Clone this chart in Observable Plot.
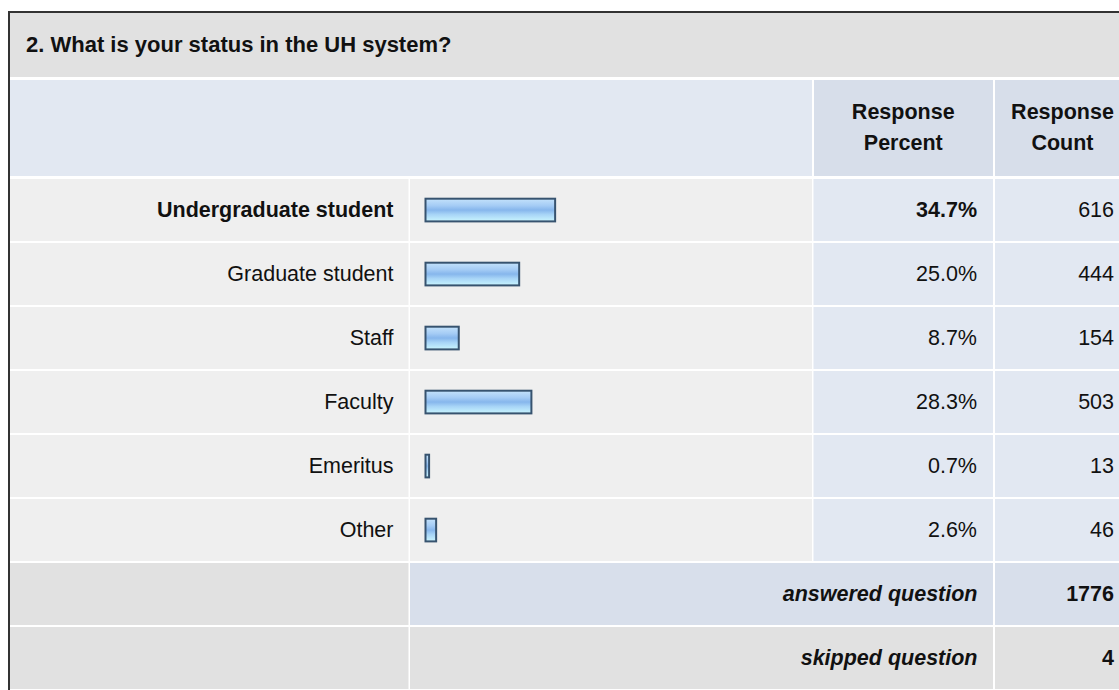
<!DOCTYPE html>
<html>
<head>
<meta charset="utf-8">
<script src="https://cdn.jsdelivr.net/npm/d3@7"></script>
<script src="https://cdn.jsdelivr.net/npm/@observablehq/plot@0.6"></script>
<style>
  html, body { margin: 0; padding: 0; background: #fff; }
  body { width: 1119px; height: 690px; overflow: hidden; position: relative;
         font-family: "Liberation Sans", Arial, Helvetica, sans-serif; color: #111; }
  #frame { position: absolute; left: 8px; top: 11px; width: 1111px; height: 679px;
           border-left: 2px solid #333; border-top: 2px solid #333; background: #fff; overflow: hidden; }
  #title { position: absolute; left: 0; top: 0; width: 1120px; height: 64px; background: #e1e1e1;
           font-weight: bold; font-size: 22px; line-height: 64px; padding-left: 16px; box-sizing: border-box;
           white-space: nowrap; }
  .hcell { position: absolute; top: 67px; height: 96px; display: flex; align-items: center; justify-content: center;
           text-align: center; font-weight: bold; font-size: 21.5px; line-height: 31px; }
  #chart { position: absolute; left: 0; top: 176px; }
</style>
</head>
<body>
<div id="frame">
  <div id="title"></div>
  <div class="hcell" id="hLeft" style="left:0;width:801.5px;background:#e2e8f2;"></div>
  <div class="hcell" id="hPct" style="left:803.5px;width:179.5px;background:#d7deea;"></div>
  <div class="hcell" id="hCnt" style="left:985px;width:135px;background:#d7deea;"></div>
</div>
<div id="chart"></div>
<script>
// ---- data ----
const questionTitle = "2. What is your status in the UH system?";
const headerLabels = ["Response Percent", "Response Count"];
const categories = ["Undergraduate student", "Graduate student", "Staff", "Faculty", "Emeritus", "Other"];
const percents = [34.7, 25.0, 8.7, 28.3, 0.7, 2.6];
const counts = [616, 444, 154, 503, 13, 46];
const summaryLabels = ["answered question", "skipped question"];
const summaryCounts = [1776, 4];

// ---- header (HTML above the SVG) ----
document.getElementById("title").textContent = questionTitle;
document.getElementById("hPct").innerHTML = headerLabels[0].replace(" ", "<br>");
document.getElementById("hCnt").innerHTML = headerLabels[1].replace(" ", "<br>");

// ---- table built from the arrays ----
const maxPct = d3.max(percents);
const rows = categories.map((c, i) => ({label: c, pct: percents[i], count: counts[i], top: percents[i] === maxPct}));
const summary = summaryLabels.map((s, i) => ({label: s, count: summaryCounts[i]}));
const rowKeys = [...categories, ...summaryLabels];

// layout: pixel -> x-scale units (0% at px 426, 3.707 px per percent)
const X0 = 426, PXPER = 3.707;
const toX = px => (px - X0) / PXPER;
const COLS = {label: [10, 408.5], bar: [410, 812], pct: [813.5, 993], cnt: [995, 1130], mid: [410, 993]};

const cells = [];
for (const c of categories) {
  cells.push({row: c, x1: toX(COLS.label[0]), x2: toX(COLS.label[1]), fill: "#efefef"});
  cells.push({row: c, x1: toX(COLS.bar[0]), x2: toX(COLS.bar[1]), fill: "#efefef"});
  cells.push({row: c, x1: toX(COLS.pct[0]), x2: toX(COLS.pct[1]), fill: "#e2e8f2"});
  cells.push({row: c, x1: toX(COLS.cnt[0]), x2: toX(COLS.cnt[1]), fill: "#e2e8f2"});
}
const sumFill = [["#e1e1e1", "#d8dfeb", "#d8dfeb"], ["#e1e1e1", "#e1e1e1", "#e1e1e1"]];
summaryLabels.forEach((s, i) => {
  cells.push({row: s, x1: toX(COLS.label[0]), x2: toX(COLS.label[1]), fill: sumFill[i][0]});
  cells.push({row: s, x1: toX(COLS.mid[0]), x2: toX(COLS.mid[1]), fill: sumFill[i][1]});
  cells.push({row: s, x1: toX(COLS.cnt[0]), x2: toX(COLS.cnt[1]), fill: sumFill[i][2]});
});

const FONT = "Liberation Sans, Arial, Helvetica, sans-serif";
const FS = 21.5;
const txt = {frameAnchor: "left", textAnchor: "end", fontSize: FS, fontFamily: FONT, fill: "#111", dy: 1};

const svg = Plot.plot({
  width: 1119,
  height: 515,
  marginLeft: 0, marginRight: 0, marginTop: 0, marginBottom: 0,
  style: {background: "transparent", fontFamily: FONT, overflow: "visible"},
  x: {domain: [0, 100], range: [X0, X0 + 100 * PXPER], axis: null},
  y: {domain: rowKeys, range: [0, 514.67], padding: 0, axis: null},
  marks: [
    Plot.barX(cells, {x1: "x1", x2: "x2", y: "row", fill: "fill", insetTop: 2, insetBottom: 0}),
    Plot.barX(rows, {x: "pct", y: "label", fill: "url(#barGrad)", stroke: "#37536f", strokeWidth: 2,
                     insetTop: 21.7, insetBottom: 19.6, insetLeft: -0.5, insetRight: -0.5}),
    Plot.text(rows.filter(d => d.top), {...txt, y: "label", text: "label", dx: 393, fontWeight: "bold"}),
    Plot.text(rows.filter(d => !d.top), {...txt, y: "label", text: "label", dx: 393}),
    Plot.text(rows.filter(d => d.top), {...txt, y: "label", text: d => d.pct.toFixed(1) + "%", dx: 976.5, fontWeight: "bold"}),
    Plot.text(rows.filter(d => !d.top), {...txt, y: "label", text: d => d.pct.toFixed(1) + "%", dx: 976.5}),
    Plot.text(rows, {...txt, y: "label", text: d => String(d.count), dx: 1113.5}),
    Plot.text(summary, {...txt, y: "label", text: "label", dx: 977, fontWeight: "bold", fontStyle: "italic"}),
    Plot.text(summary, {...txt, y: "label", text: d => String(d.count), dx: 1113.5, fontWeight: "bold"})
  ]
});

// glossy gradient for the bars
const defs = d3.select(svg).insert("defs", ":first-child");
const g = defs.append("linearGradient").attr("id", "barGrad")
  .attr("x1", 0).attr("y1", 0).attr("x2", 0).attr("y2", 1);
[[0, "#c4e2fb"], [0.3, "#a5ccf5"], [0.5, "#86b6ec"], [0.7, "#a8d5f7"], [1, "#c9f5fe"]]
  .forEach(([o, c]) => g.append("stop").attr("offset", o).attr("stop-color", c));

document.getElementById("chart").appendChild(svg);
</script>
</body>
</html>
